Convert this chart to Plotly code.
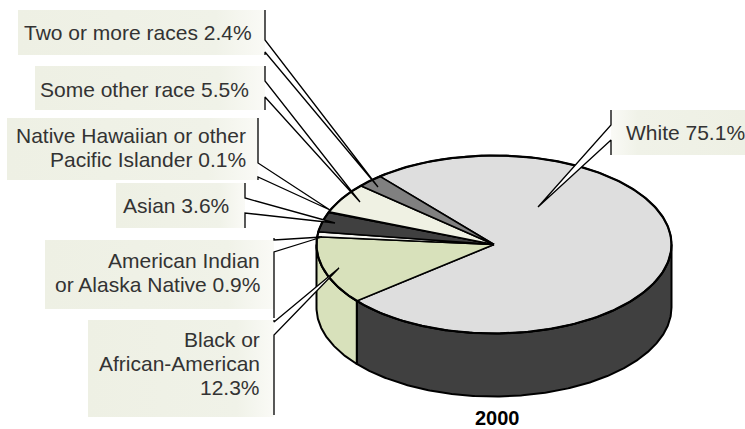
import numpy as np
import plotly.graph_objects as go

# ---------------- data ----------------
categories = ["White", "Black or African-American", "American Indian or Alaska Native",
              "Asian", "Native Hawaiian or other Pacific Islander", "Some other race",
              "Two or more races"]
shares = [75.1, 12.3, 0.9, 3.6, 0.1, 5.5, 2.4]
label_lines = [
    ["White 75.1%"],
    ["Black or", "African-American", "12.3%"],
    ["American Indian", "or Alaska Native 0.9%"],
    ["Asian 3.6%"],
    ["Native Hawaiian or other", "Pacific Islander 0.1%"],
    ["Some other race 5.5%"],
    ["Two or more races 2.4%"],
]
year_label = "2000"

# ---------------- styles / layout ----------------
top_colors = ["#dedede", "#d8e1bb", "#f7f7f2", "#404040", "#f7f7f2", "#eff1e3", "#808080"]
side_colors = ["#404040", "#d8e1bb", "#f7f7f2", "#404040", "#f7f7f2", "#eff1e3", "#808080"]

W, H = 745, 429
PIE = dict(cx=494, cy=244.5, rx=177.5, ry=89, depth=63, start=130)
FONT = "Liberation Sans, Arial, sans-serif"
FSIZE = 21
LINE_GAP = 24

# callout geometry per category (pixel space): box, tail side, tail base, pointer tip, text anchor
callouts = {
    "White": dict(box=(611, 745, 110, 155), side="left", tail=(125, 140), tip=(538, 207),
                  tx=624, ty=132.5),
    "Black or African-American": dict(box=(88, 274, 320, 417), side="right", tail=(322, 335),
                                      tip=(339, 268), tx=262, ty=339.5, bar_end=415),
    "American Indian or Alaska Native": dict(box=(45, 274, 240, 309), side="right", tail=(240, 252),
                                             tip=(322, 237), tx=262, ty=260.5, bar_start=238, bar_end=318),
    "Asian": dict(box=(116, 245, 183, 228), side="right", tail=(198, 213), tip=(335, 223),
                  tx=231, ty=205.5),
    "Native Hawaiian or other Pacific Islander": dict(box=(7, 258, 118, 180), side="right",
                                                      tail=(163, 177), tip=(330, 210), tx=248, ty=135.5),
    "Some other race": dict(box=(35, 265, 66, 110), side="right", tail=(81, 97), tip=(360, 202),
                            tx=251, ty=89.5),
    "Two or more races": dict(box=(18, 265, 10, 55), side="right", tail=(40, 52), tip=(378, 187),
                              tx=254, ty=32),
}

fig = go.Figure()


def ell(a_deg, dy=0.0):
    a = np.radians(a_deg)
    return PIE["cx"] + PIE["rx"] * np.cos(a), PIE["cy"] - PIE["ry"] * np.sin(a) + dy


total = float(sum(shares))
angles = []
cum = 0.0
for v in shares:
    hi = PIE["start"] - cum / total * 360.0
    lo = hi - v / total * 360.0
    angles.append((lo, hi))
    cum += v

# sides (front half only)
for (lo, hi), col in zip(angles, side_colors):
    for k in (-2, -1, 0, 1):
        f0, f1 = 180 + 360 * k, 360 + 360 * k
        a, b = max(lo, f0), min(hi, f1)
        if b > a:
            n = max(3, int((b - a) * 2) + 2)
            t = np.linspace(a, b, n)
            xt, yt = ell(t)
            xb, yb = ell(t[::-1], PIE["depth"])
            xs = np.concatenate([xt, xb, xt[:1]])
            ys = np.concatenate([yt, yb, yt[:1]])
            fig.add_trace(go.Scatter(x=xs, y=ys, mode="lines", fill="toself", fillcolor=col,
                                     line=dict(color="black", width=2), hoverinfo="skip"))

# tops
for (lo, hi), col, name in zip(angles, top_colors, categories):
    n = max(3, int((hi - lo) * 2) + 2)
    t = np.linspace(hi, lo, n)
    xa, ya = ell(t)
    xs = np.concatenate([[PIE["cx"]], xa, [PIE["cx"]]])
    ys = np.concatenate([[PIE["cy"]], ya, [PIE["cy"]]])
    fig.add_trace(go.Scatter(x=xs, y=ys, mode="lines", fill="toself", fillcolor=col,
                             line=dict(color="black", width=1.6), name=name, hoverinfo="name"))

# outer rim of top ellipse
t = np.linspace(0, 360, 361)
xr, yr = ell(t)
fig.add_trace(go.Scatter(x=xr, y=yr, mode="lines", line=dict(color="black", width=2.2),
                         hoverinfo="skip"))

# callout boxes and pointers
annotations = []
for name, lines in zip(categories, label_lines):
    c = callouts[name]
    x0, x1, y0, y1 = c["box"]
    light_at_right = c["side"] == "right"
    cs = ([[0, "#eef0e4"], [0.8, "#f0f2e8"], [1, "#fafaf6"]] if light_at_right
          else [[0, "#fafaf6"], [0.2, "#f0f2e8"], [1, "#eef0e4"]])
    fig.add_trace(go.Scatter(x=[x0, x1, x1, x0, x0], y=[y0, y0, y1, y1, y0], mode="lines",
                             fill="toself", line=dict(width=0, color="rgba(0,0,0,0)"),
                             fillgradient=dict(type="horizontal", colorscale=cs),
                             hoverinfo="skip"))
    bx = x1 if c["side"] == "right" else x0
    yt0, yt1 = c["tail"]
    tx, ty = c["tip"]
    fig.add_trace(go.Scatter(x=[bx, tx, bx, bx], y=[yt0, ty, yt1, yt0], mode="lines",
                             fill="toself", fillcolor="white", line=dict(width=0, color="white"),
                             hoverinfo="skip"))
    ys0 = c.get("bar_start", y0)
    ys1 = c.get("bar_end", y1)
    fig.add_trace(go.Scatter(x=[bx, bx, tx, bx, bx], y=[ys0, yt0, ty, yt1, ys1], mode="lines",
                             line=dict(color="black", width=1.3), hoverinfo="skip"))
    for i, s in enumerate(lines):
        annotations.append(dict(x=c["tx"], y=c["ty"] + i * LINE_GAP, text=s, showarrow=False,
                                xanchor="right" if c["side"] == "right" else "left",
                                yanchor="middle",
                                font=dict(family=FONT, size=FSIZE, color="#333333")))

annotations.append(dict(x=497, y=418, text="<b>" + year_label + "</b>", showarrow=False,
                        xanchor="center", yanchor="middle",
                        font=dict(family=FONT, size=20, color="black")))

fig.update_layout(
    width=W, height=H, margin=dict(l=0, r=0, t=0, b=0),
    paper_bgcolor="white", plot_bgcolor="white", showlegend=False,
    xaxis=dict(range=[0, W], visible=False, fixedrange=True),
    yaxis=dict(range=[H, 0], visible=False, fixedrange=True),
    annotations=annotations,
)

fig.write_html("out.html", config={"displayModeBar": False},
               post_script="document.body.style.margin='0px';document.body.style.overflow='hidden';")
